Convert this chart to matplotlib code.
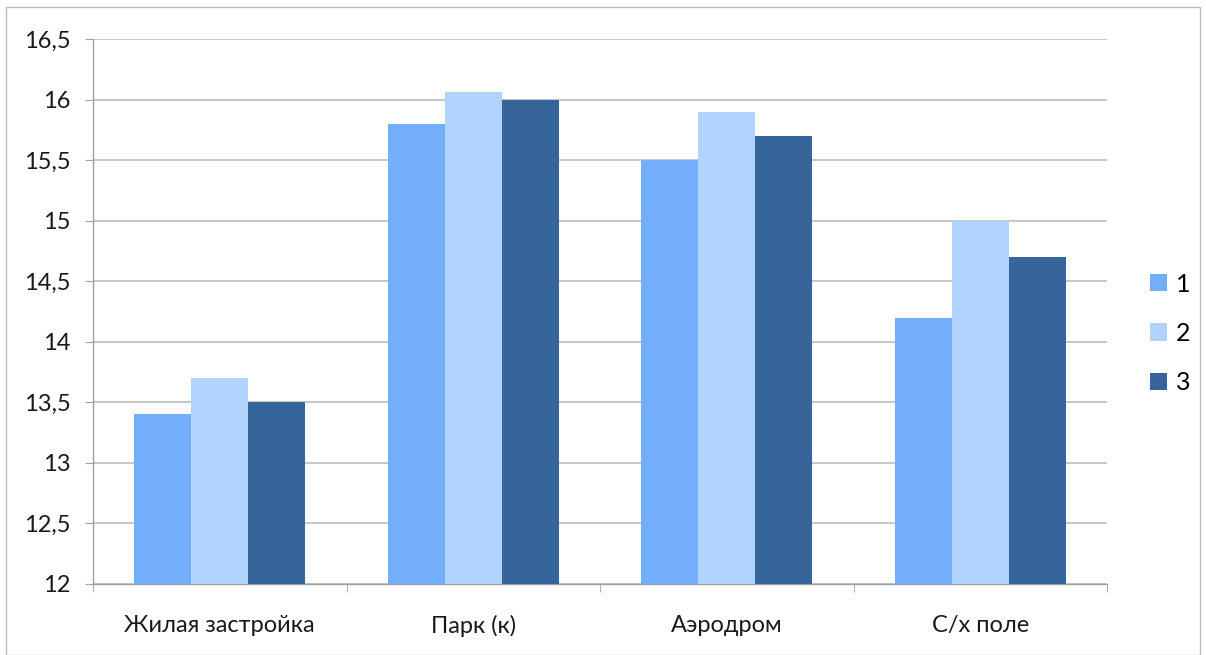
import numpy as np
import matplotlib.pyplot as plt
from matplotlib.patches import Rectangle
from matplotlib.ticker import FuncFormatter, FixedLocator

categories = ["Жилая застройка", "Парк (к)", "Аэродром", "С/х поле"]
series_names = ["1", "2", "3"]
s1 = [13.4, 15.8, 15.5, 14.2]
s2 = [13.7, 16.06, 15.9, 15.0]
s3 = [13.5, 16.0, 15.7, 14.7]
colors = ["#72AEFA", "#B0D4FE", "#36659B"]

plt.rcParams['font.family'] = ['Lato', 'DejaVu Sans']

fig = plt.figure(figsize=(12.06, 6.55), dpi=100)
ax = fig.add_axes([0.0771, 0.1084, 0.9180 - 0.0771, 0.9405 - 0.1084])

x = np.arange(len(categories))
w = 0.225
for i, (vals, name) in enumerate(zip([s1, s2, s3], series_names)):
    ax.bar(x + (i - 1) * w, vals, width=w, color=colors[i], label=name, zorder=3)

ax.set_ylim(12, 16.5)
ax.set_xlim(-0.5, len(categories) - 0.5)
ax.set_yticks(np.arange(12, 16.51, 0.5))
ax.yaxis.set_major_formatter(FuncFormatter(lambda v, p: ("%g" % v).replace(".", ",")))
ax.grid(axis="y", color="#BEBEBE", linewidth=1.2, zorder=0)

ax.set_xticks(x)
ax.set_xticklabels(categories)
ax.xaxis.set_minor_locator(FixedLocator(np.arange(-0.5, len(categories), 1)))
ax.tick_params(axis="x", which="major", length=0, pad=22, labelsize=17, colors="#1a1a1a")
ax.tick_params(axis="x", which="minor", length=6, color="#A0A0A0")
ax.tick_params(axis="y", length=6, color="#A0A0A0", labelsize=17, pad=10, labelcolor="#1a1a1a")

for s in ["top", "right"]:
    ax.spines[s].set_visible(False)
for s in ["left", "bottom"]:
    ax.spines[s].set_color("#A0A0A0")
    ax.spines[s].set_linewidth(1.0)

leg = ax.legend(loc="center left", bbox_to_anchor=(1.042, 0.46), frameon=False,
                fontsize=18, handlelength=0.68, handleheight=0.68, labelspacing=1.05,
                handletextpad=0.36, borderpad=0, borderaxespad=0)

fig.patches.append(Rectangle((6 / 1206, 0.0), 1 - 12 / 1206, 1 - 7 / 655,
                             transform=fig.transFigure, fill=False,
                             edgecolor="#BDBDBD", linewidth=1.0))

fig.savefig("out.png", dpi=100)
